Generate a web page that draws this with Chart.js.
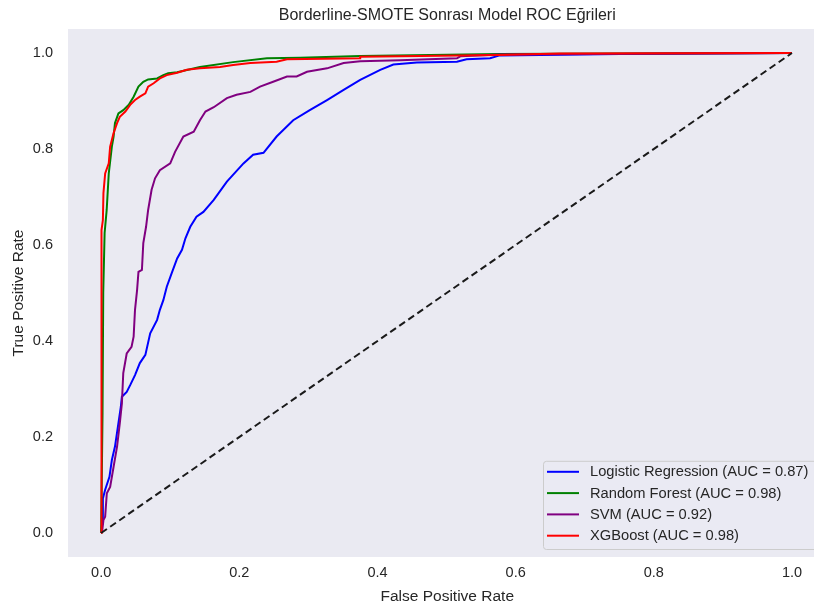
<!DOCTYPE html>
<html>
<head>
<meta charset="utf-8">
<script src="https://cdn.jsdelivr.net/npm/chart.js@4/dist/chart.umd.min.js"></script>
<style>
html, body { margin:0; padding:0; background:#ffffff; overflow:hidden; width:814px; height:608px; }
#wrap { width:830px; height:608px; position:relative; }
canvas { display:block; }
</style>
</head>
<body>
<div id="wrap"><canvas id="c" width="830" height="608"></canvas></div>
<script>
// ---- data ----
const chartTitle = "Borderline-SMOTE Sonrası Model ROC Eğrileri";
const xLabel = "False Positive Rate";
const yLabel = "True Positive Rate";
const xTicks = [0.0, 0.2, 0.4, 0.6, 0.8, 1.0];
const yTicks = [0.0, 0.2, 0.4, 0.6, 0.8, 1.0];

const modelNames = ["Logistic Regression", "Random Forest", "SVM", "XGBoost"];
const modelAuc = [0.87, 0.98, 0.92, 0.98];
const modelColors = ["#0000ff", "#008000", "#800080", "#ff0000"];

const lrFpr = [0, 0.002, 0.0025, 0.0058, 0.012, 0.0155, 0.020, 0.025, 0.0285, 0.030, 0.037, 0.042, 0.049, 0.056, 0.064, 0.071, 0.081, 0.085, 0.090, 0.095, 0.102, 0.110, 0.117, 0.122, 0.129, 0.138, 0.148, 0.163, 0.182, 0.206, 0.220, 0.235, 0.254, 0.278, 0.302, 0.327, 0.351, 0.375, 0.404, 0.423, 0.457, 0.515, 0.529, 0.563, 0.577, 0.751, 1.0];
const lrTpr = [0, 0.030, 0.072, 0.090, 0.117, 0.152, 0.180, 0.229, 0.263, 0.284, 0.294, 0.308, 0.329, 0.354, 0.371, 0.416, 0.444, 0.465, 0.485, 0.513, 0.541, 0.572, 0.590, 0.614, 0.638, 0.659, 0.669, 0.694, 0.732, 0.770, 0.788, 0.792, 0.826, 0.860, 0.881, 0.902, 0.923, 0.944, 0.965, 0.976, 0.980, 0.982, 0.987, 0.989, 0.995, 0.998, 1.0];

const rfFpr = [0, 0.002, 0.003, 0.005, 0.008, 0.011, 0.0155, 0.018, 0.020, 0.025, 0.032, 0.040, 0.047, 0.054, 0.061, 0.068, 0.081, 0.090, 0.097, 0.110, 0.143, 0.191, 0.240, 0.288, 0.375, 0.577, 0.751, 1.0];
const rfTpr = [0, 0.250, 0.500, 0.625, 0.673, 0.749, 0.805, 0.826, 0.854, 0.874, 0.881, 0.892, 0.909, 0.930, 0.940, 0.945, 0.947, 0.954, 0.958, 0.960, 0.971, 0.981, 0.989, 0.990, 0.994, 0.998, 0.999, 1.0];

const svmFpr = [0, 0.0014, 0.0033, 0.0058, 0.0082, 0.013, 0.018, 0.023, 0.027, 0.030, 0.032, 0.037, 0.044, 0.047, 0.049, 0.052, 0.054, 0.059, 0.061, 0.065, 0.068, 0.073, 0.078, 0.085, 0.100, 0.107, 0.119, 0.134, 0.143, 0.151, 0.163, 0.182, 0.196, 0.216, 0.230, 0.249, 0.269, 0.283, 0.298, 0.327, 0.351, 0.375, 0.433, 0.515, 0.520, 0.577, 1.0];
const svmTpr = [0, 0.003, 0.027, 0.034, 0.083, 0.096, 0.138, 0.180, 0.229, 0.270, 0.333, 0.374, 0.388, 0.409, 0.465, 0.506, 0.544, 0.548, 0.604, 0.638, 0.673, 0.715, 0.739, 0.756, 0.770, 0.794, 0.826, 0.836, 0.860, 0.878, 0.887, 0.906, 0.913, 0.919, 0.930, 0.940, 0.951, 0.951, 0.961, 0.968, 0.979, 0.983, 0.985, 0.989, 0.993, 0.997, 1.0];

const xgbFpr = [0, 0, 0.001, 0.0025, 0.0033, 0.0058, 0.011, 0.013, 0.018, 0.023, 0.027, 0.035, 0.042, 0.049, 0.056, 0.064, 0.068, 0.076, 0.085, 0.095, 0.110, 0.124, 0.143, 0.172, 0.191, 0.216, 0.254, 0.269, 0.375, 0.375, 0.577, 0.664, 1.0];
const xgbTpr = [0, 0.617, 0.631, 0.652, 0.708, 0.749, 0.770, 0.805, 0.833, 0.854, 0.867, 0.878, 0.892, 0.902, 0.909, 0.916, 0.930, 0.937, 0.947, 0.954, 0.959, 0.965, 0.968, 0.971, 0.975, 0.979, 0.982, 0.987, 0.989, 0.992, 0.996, 0.999, 1.0];

const chanceFpr = [0, 1];
const chanceTpr = [0, 1];

// ---- build datasets ----
function pts(xs, ys) { return xs.map((x, i) => ({ x: x, y: ys[i] })); }
const seriesX = [lrFpr, rfFpr, svmFpr, xgbFpr];
const seriesY = [lrTpr, rfTpr, svmTpr, xgbTpr];

const datasets = modelNames.map((name, i) => ({
  label: name + " (AUC = " + modelAuc[i].toFixed(2) + ")",
  data: pts(seriesX[i], seriesY[i]),
  borderColor: modelColors[i],
  backgroundColor: modelColors[i],
  borderWidth: 2,
  pointRadius: 0,
  tension: 0,
  fill: false,
  order: 5 - i,
  inLegend: true
}));
datasets.push({
  label: "chance",
  data: pts(chanceFpr, chanceTpr),
  borderColor: "#1a1a1a",
  borderWidth: 2,
  borderDash: [7, 4],
  pointRadius: 0,
  fill: false,
  order: 0,
  inLegend: false
});

const TEXT = "#262626";
const FONT = "'Liberation Sans', Arial, sans-serif";

const bgPlugin = {
  id: "bg",
  beforeDraw(chart) {
    const { ctx, chartArea: a } = chart;
    ctx.save();
    ctx.fillStyle = "#eaeaf2";
    ctx.fillRect(a.left, a.top, a.right - a.left, a.bottom - a.top);
    ctx.restore();
  }
};

const titlePlugin = {
  id: "ttl",
  afterDraw(chart) {
    const { ctx, chartArea: a } = chart;
    ctx.save();
    ctx.fillStyle = TEXT;
    ctx.font = "16px " + FONT;
    ctx.textAlign = "center";
    ctx.textBaseline = "middle";
    ctx.fillText(chartTitle, (a.left + a.right) / 2, 15.5);
    ctx.restore();
  }
};

const legendPlugin = {
  id: "lgd",
  afterDatasetsDraw(chart) {
    const { ctx, chartArea: a } = chart;
    const items = chart.data.datasets.filter(d => d.inLegend);
    const rowH = 21.3;
    const boxR = a.right - 5.5, boxB = a.bottom - 8;
    const boxH = items.length * rowH + 3;
    const boxL = 543, boxT = boxB - boxH;
    ctx.save();
    ctx.beginPath();
    ctx.roundRect(boxL + 0.5, boxT + 0.5, boxR - boxL, boxH, 3);
    ctx.fillStyle = "rgba(234,234,242,0.8)";
    ctx.fill();
    ctx.strokeStyle = "#cccccc";
    ctx.lineWidth = 1;
    ctx.stroke();
    ctx.font = "14.7px " + FONT;
    ctx.textBaseline = "middle";
    ctx.textAlign = "left";
    items.forEach((d, i) => {
      const y = boxT + 11 + i * rowH;
      ctx.beginPath();
      ctx.moveTo(boxL + 4, y);
      ctx.lineTo(boxL + 36, y);
      ctx.strokeStyle = d.borderColor;
      ctx.lineWidth = 2;
      ctx.stroke();
      ctx.fillStyle = TEXT;
      ctx.fillText(d.label, boxL + 47, y + 0.5);
    });
    ctx.restore();
  }
};

new Chart(document.getElementById("c"), {
  type: "line",
  data: { datasets: datasets },
  plugins: [bgPlugin, legendPlugin, titlePlugin],
  options: {
    responsive: false,
    animation: false,
    devicePixelRatio: 1,
    layout: { padding: { top: 29, right: 3.5, left: 0, bottom: 0 } },
    plugins: { legend: { display: false }, title: { display: false }, tooltip: { enabled: false } },
    scales: {
      x: {
        type: "linear",
        min: -0.048, max: 1.05,
        grid: { display: false, drawTicks: false },
        border: { display: false },
        afterBuildTicks: s => { s.ticks = xTicks.map(v => ({ value: v })); },
        afterFit: s => { s.height = 51; },
        ticks: { color: TEXT, font: { size: 14.5, family: FONT }, padding: 7, maxRotation: 0, autoSkip: false,
                 callback: v => Number(v).toFixed(1) },
        title: { display: true, text: xLabel, color: TEXT, font: { size: 15.5, family: FONT }, padding: { top: 0, bottom: 2 } }
      },
      y: {
        type: "linear",
        min: -0.05, max: 1.05,
        grid: { display: false, drawTicks: false },
        border: { display: false },
        afterBuildTicks: s => { s.ticks = yTicks.map(v => ({ value: v })); },
        afterFit: s => { s.width = 68; },
        ticks: { color: TEXT, font: { size: 14.5, family: FONT }, padding: 15, autoSkip: false,
                 callback: v => Number(v).toFixed(1) },
        title: { display: true, text: yLabel, color: TEXT, font: { size: 15.5, family: FONT }, padding: { top: 9, bottom: 0 } }
      }
    }
  }
});
</script>
</body>
</html>
